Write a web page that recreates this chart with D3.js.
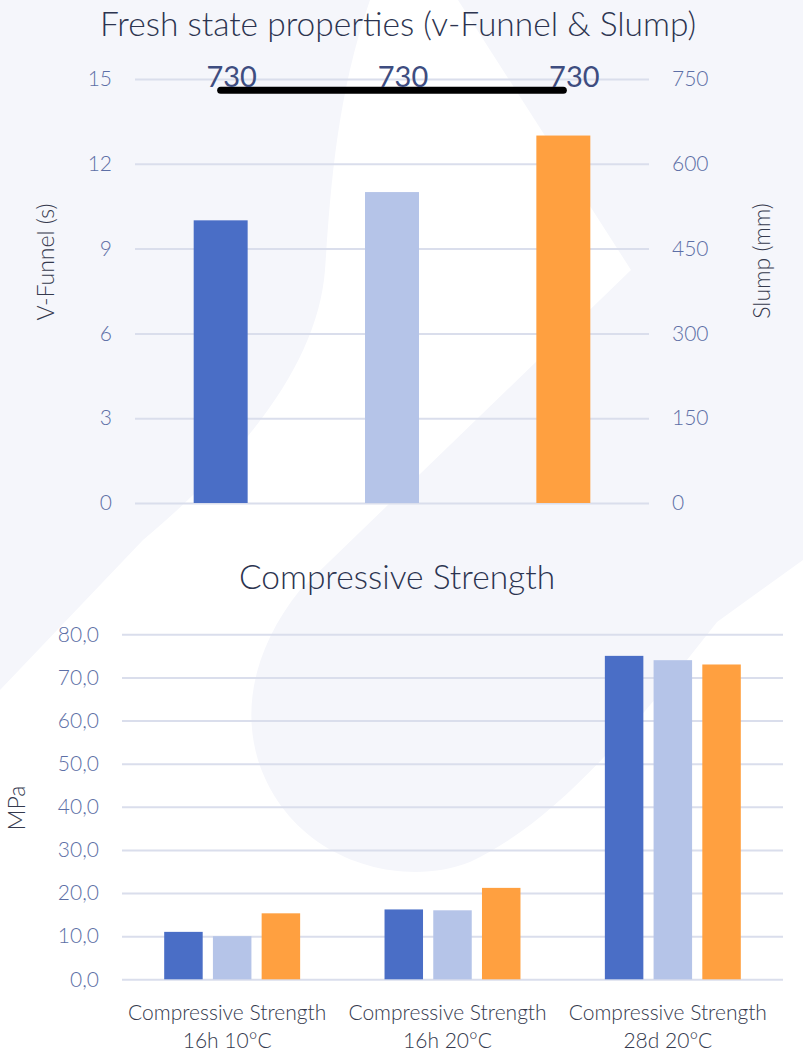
<!DOCTYPE html>
<html>
<head>
<meta charset="utf-8">
<script src="https://cdn.jsdelivr.net/npm/d3@7"></script>
<style>
  html, body { margin: 0; padding: 0; background: #ffffff; }
  svg { display: block; font-family: Lato, "Open Sans", sans-serif; }
</style>
</head>
<body>
<svg id="chart" width="803" height="1052"></svg>
<script>
// ---- data ----
const mixes = ["Mix 1", "Mix 2", "Mix 3"];
const mixColors = ["#4A6EC6", "#B5C4E8", "#FFA040"];

// fresh state
const vFunnel = [10, 11, 13];          // seconds
const slump = [730, 730, 730];         // mm
const vFunnelTicks = [0, 3, 6, 9, 12, 15];
const slumpTicks = [0, 150, 300, 450, 600, 750];

// compressive strength (MPa)
const strengthCategories = ["16h 10°C", "16h 20°C", "28d 20°C"];
const strengthMix1 = [11.0, 16.2, 75.0];
const strengthMix2 = [10.0, 16.0, 74.0];
const strengthMix3 = [15.3, 21.2, 73.0];
const strengthTicks = [0, 10, 20, 30, 40, 50, 60, 70, 80];

// ---- styles ----
const tickColor = "#5D6FA6";
const titleColor = "#2C3450";
const axisTitleColor = "#353A4E";
const gridColor = "#DADEEC";

const svg = d3.select("#chart");

// soft decorative backdrop
const bg = svg.append("g");
bg.append("rect").attr("width", 803).attr("height", 1052).attr("fill", "#ffffff");
bg.append("path")
  .attr("d", "M0,0 L370,0 C335,100 330,200 325,270 C318,360 250,450 143,540 L0,690 Z")
  .attr("fill", "#F5F6FB");
bg.append("path")
  .attr("d", "M458,0 L803,0 L803,560 L717,622 C640,720 560,820 470,862 C400,890 290,860 258,760 C240,700 260,640 300,590 L631,270 Z")
  .attr("fill", "#F5F6FB");

// ================= Fresh state chart =================
const freshBox = { left: 135, right: 649, top: 79, bottom: 503 };

const xFresh = d3.scaleBand()
  .domain(mixes)
  .range([freshBox.left, freshBox.right])
  .paddingInner(0.685)
  .paddingOuter(0.3425);

const yFunnel = d3.scaleLinear().domain([0, 15]).range([freshBox.bottom, freshBox.top]);
const ySlump = d3.scaleLinear().domain([0, 750]).range([freshBox.bottom, freshBox.top]);

const g1 = svg.append("g");

// grid
g1.append("g")
  .attr("transform", `translate(${freshBox.left},0)`)
  .call(d3.axisLeft(yFunnel).tickValues(vFunnelTicks).tickSize(-(freshBox.right - freshBox.left)).tickFormat(""))
  .call(g => g.select(".domain").remove())
  .call(g => g.selectAll("line").attr("stroke", gridColor).attr("stroke-width", 2));

// left axis labels
g1.append("g")
  .attr("transform", `translate(${freshBox.left},0)`)
  .call(d3.axisLeft(yFunnel).tickValues(vFunnelTicks).tickSize(0).tickPadding(23))
  .call(g => g.select(".domain").remove())
  .call(g => g.selectAll("text")
    .attr("fill", tickColor).attr("font-size", 21).attr("font-weight", 300)
    .attr("font-family", "Lato, sans-serif"));

// right axis labels
g1.append("g")
  .attr("transform", `translate(${freshBox.right},0)`)
  .call(d3.axisRight(ySlump).tickValues(slumpTicks).tickSize(0).tickPadding(23))
  .call(g => g.select(".domain").remove())
  .call(g => g.selectAll("text")
    .attr("fill", tickColor).attr("font-size", 21).attr("font-weight", 300)
    .attr("font-family", "Lato, sans-serif"));

// bars
g1.selectAll("rect.vf")
  .data(mixes)
  .join("rect")
  .attr("class", "vf")
  .attr("x", d => xFresh(d))
  .attr("width", xFresh.bandwidth())
  .attr("y", (d, i) => yFunnel(vFunnel[i]))
  .attr("height", (d, i) => yFunnel(0) - yFunnel(vFunnel[i]))
  .attr("fill", (d, i) => mixColors[i]);

// slump line
const slumpLine = d3.line()
  .x((d, i) => xFresh(mixes[i]) + xFresh.bandwidth() / 2)
  .y(d => ySlump(d));
g1.append("path")
  .datum(slump)
  .attr("d", slumpLine)
  .attr("fill", "none")
  .attr("stroke", "#000000")
  .attr("stroke-width", 7)
  .attr("stroke-linecap", "round");

// slump value labels
g1.selectAll("text.slumpLabel")
  .data(slump)
  .join("text")
  .attr("class", "slumpLabel")
  .attr("x", (d, i) => xFresh(mixes[i]) + xFresh.bandwidth() / 2 + 11)
  .attr("y", d => ySlump(d) - 3)
  .attr("text-anchor", "middle")
  .attr("font-size", 29)
  .attr("fill", "#3E4D80")
  .text(d => d);

// titles
g1.append("text")
  .attr("x", 398).attr("y", 36)
  .attr("text-anchor", "middle")
  .attr("font-size", 33.5).attr("font-weight", 300)
  .attr("fill", titleColor)
  .text("Fresh state properties (v-Funnel & Slump)");

g1.append("text")
  .attr("transform", "translate(54,262) rotate(-90)")
  .attr("text-anchor", "middle")
  .attr("font-size", 23).attr("font-weight", 300)
  .attr("fill", axisTitleColor)
  .text("V-Funnel (s)");

g1.append("text")
  .attr("transform", "translate(770,261) rotate(-90)")
  .attr("text-anchor", "middle")
  .attr("font-size", 23).attr("font-weight", 300)
  .attr("fill", axisTitleColor)
  .text("Slump (mm)");

// ================= Compressive strength chart =================
const strBox = { left: 122, right: 783, top: 634.3, bottom: 979.3 };

const xCat = d3.scaleBand()
  .domain(strengthCategories)
  .range([strBox.left, strBox.right])
  .paddingInner(0.383)
  .paddingOuter(0.1915);

const xMix = d3.scaleBand()
  .domain(mixes)
  .range([0, xCat.bandwidth()])
  .paddingInner(0.21);

const yStr = d3.scaleLinear().domain([0, 80]).range([strBox.bottom, strBox.top]);
const fmtComma = v => d3.format(".1f")(v).replace(".", ",");

const g2 = svg.append("g");

g2.append("g")
  .attr("transform", `translate(${strBox.left},0)`)
  .call(d3.axisLeft(yStr).tickValues(strengthTicks).tickSize(-(strBox.right - strBox.left)).tickFormat(""))
  .call(g => g.select(".domain").remove())
  .call(g => g.selectAll("line").attr("stroke", gridColor).attr("stroke-width", 2));

g2.append("g")
  .attr("transform", `translate(${strBox.left},0)`)
  .call(d3.axisLeft(yStr).tickValues(strengthTicks).tickSize(0).tickPadding(23).tickFormat(fmtComma))
  .call(g => g.select(".domain").remove())
  .call(g => g.selectAll("text")
    .attr("fill", tickColor).attr("font-size", 21).attr("font-weight", 300)
    .attr("font-family", "Lato, sans-serif"));

const strengthSeries = [strengthMix1, strengthMix2, strengthMix3];
const groups = g2.selectAll("g.cat")
  .data(strengthCategories)
  .join("g")
  .attr("class", "cat")
  .attr("transform", d => `translate(${xCat(d)},0)`);

groups.selectAll("rect")
  .data((c, ci) => mixes.map((m, mi) => ({ mix: m, mi, value: strengthSeries[mi][ci] })))
  .join("rect")
  .attr("x", d => xMix(d.mix))
  .attr("width", xMix.bandwidth())
  .attr("y", d => yStr(d.value))
  .attr("height", d => yStr(0) - yStr(d.value))
  .attr("fill", d => mixColors[d.mi]);

// category labels (two lines)
const catLabels = g2.selectAll("text.catLabel")
  .data(strengthCategories)
  .join("text")
  .attr("class", "catLabel")
  .attr("text-anchor", "middle")
  .attr("font-size", 21)
  .attr("font-weight", 300)
  .attr("fill", axisTitleColor);
catLabels.append("tspan")
  .attr("x", d => xCat(d) + xCat.bandwidth() / 2 - 5)
  .attr("y", 1020)
  .text("Compressive Strength");
catLabels.append("tspan")
  .attr("x", d => xCat(d) + xCat.bandwidth() / 2 - 5)
  .attr("y", 1048)
  .text(d => d);

g2.append("text")
  .attr("x", 397).attr("y", 589)
  .attr("text-anchor", "middle")
  .attr("font-size", 33.5).attr("font-weight", 300)
  .attr("fill", titleColor)
  .text("Compressive Strength");

g2.append("text")
  .attr("transform", "translate(25,808) rotate(-90)")
  .attr("text-anchor", "middle")
  .attr("font-size", 23).attr("font-weight", 300)
  .attr("fill", axisTitleColor)
  .text("MPa");
</script>
</body>
</html>
